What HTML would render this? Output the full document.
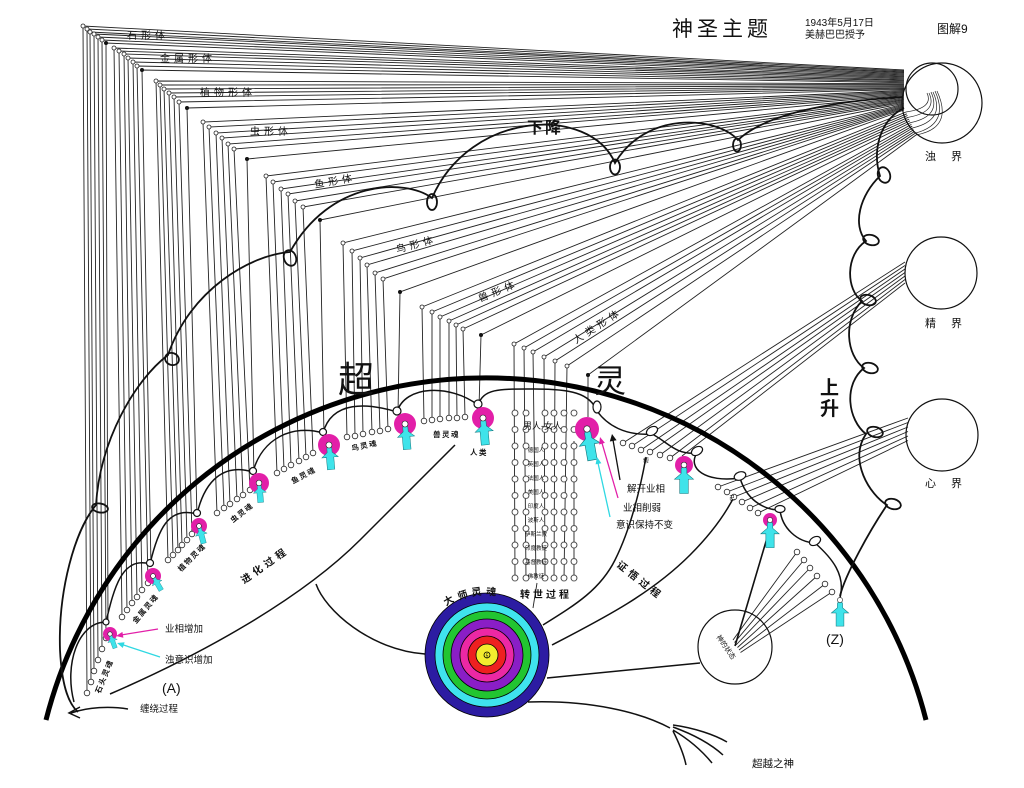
<!DOCTYPE html>
<html><head><meta charset="utf-8">
<style>
html,body{margin:0;padding:0;background:#fff;}
svg{display:block;}
text{font-family:"Liberation Sans","Noto Sans CJK SC",sans-serif;fill:#111;}
</style></head><body>
<svg width="1024" height="788" viewBox="0 0 1024 788" xmlns="http://www.w3.org/2000/svg" xmlns:xlink="http://www.w3.org/1999/xlink">
<defs>
<circle id="t" r="2.8" fill="#fff" stroke="#222" stroke-width="0.8"/>
<circle id="h" r="2" fill="#fff" stroke="#222" stroke-width="0.8"/>
<circle id="d" r="2" fill="#111"/>
<polygon id="fig" points="0,-1 3,4 3,9 10,15 4.5,15 4.5,30 -4.5,30 -4.5,15 -10,15 -3,9 -3,4" fill="#3fe3ea" stroke="#14777d" stroke-width="0.6"/>
<pattern id="col" patternUnits="userSpaceOnUse" x="508" y="404.75" width="70" height="16.5">
<g fill="#fff" stroke="#222" stroke-width="0.8">
<circle cx="7" cy="8.25" r="3"/><circle cx="18" cy="8.25" r="3"/><circle cx="37" cy="8.25" r="3"/><circle cx="46" cy="8.25" r="3"/><circle cx="56" cy="8.25" r="3"/><circle cx="66" cy="8.25" r="3"/>
</g>
</pattern>
</defs>
<rect width="1024" height="788" fill="#fff"/>

<g fill="none" stroke="#222" stroke-width="0.9">
<polyline points="904,70 83,26 87,693"/><polyline points="904,71 87,29 91,682"/><polyline points="904,72 90,32 94,671"/><polyline points="904,72.9 94,34 98,660"/><polyline points="904,73.9 98,37 102,649"/><polyline points="904,74.9 102,40 106,638"/><polyline points="904,75.9 106,43 108,625"/>
<polyline points="904,76.8 114,48 122,617"/><polyline points="904,77.8 119,51 127,610"/><polyline points="904,78.8 124,54 132,603"/><polyline points="904,79.8 128,58 137,597"/><polyline points="904,80.7 133,62 142,590"/><polyline points="904,81.7 137,66 148,583"/><polyline points="904,82.7 142,70 151,567"/>
<polyline points="904,83.7 156,81 168,560"/><polyline points="904,84.6 160,85 173,555"/><polyline points="904,85.6 164,89 178,550"/><polyline points="904,86.6 169,93 182,545"/><polyline points="904,87.6 174,97 187,540"/><polyline points="904,88.5 179,102 192,534"/><polyline points="904,89.5 187,108 197,517"/>
<polyline points="904,90.5 203,122 217,513"/><polyline points="904,91.5 209,127 224,508"/><polyline points="904,92.4 216,133 230,504"/><polyline points="904,93.4 222,138 237,499"/><polyline points="904,94.4 228,144 243,495"/><polyline points="904,95.4 234,149 250,490"/><polyline points="904,96.3 247,159 254,474"/>
<polyline points="904,97.3 266,176 277,473"/><polyline points="904,98.3 273,182 284,469"/><polyline points="904,99.3 281,189 291,465"/><polyline points="904,100.2 288,194 299,461"/><polyline points="904,101.2 295,201 306,457"/><polyline points="904,102.2 303,207 313,453"/><polyline points="904,103.2 320,220 324,435"/>
<polyline points="904,104.1 343,243 347,437"/><polyline points="904,105.1 352,251 355,436"/><polyline points="904,106.1 360,258 363,434"/><polyline points="904,107.1 367,265 372,432"/><polyline points="904,108 375,273 380,431"/><polyline points="904,109 383,279 388,429"/><polyline points="904,110 400,292 398,414"/>
<polyline points="906,112 422,307 424,421"/><polyline points="906.8,113.8 432,312 432,420"/><polyline points="907.5,115.5 440,317 440,419"/><polyline points="908.3,117.3 449,321 449,418"/><polyline points="909.1,119.1 456,325 457,418"/><polyline points="909.9,120.9 463,329 465,417"/><polyline points="910.6,122.6 481,335 479,408"/>
<polyline points="911.4,124.4 514,344 515,580"/><polyline points="912.2,126.2 524,348 526,580"/><polyline points="912.9,127.9 533,352 536,580"/><polyline points="913.7,129.7 544,357 545,580"/><polyline points="914.5,131.5 555,361 554,580"/><polyline points="915.2,133.2 567,366 564,580"/><polyline points="916,135 588,375 588,417"/>
<path d="M574,441V580M537,583L533,608"/>
<path d="M623,443L905,262M632,446L905,265.5M641,450L905,269M650,452L905,272.5M660,455L905,276M670,458L905,279.5M682,456L905,283"/>
<path d="M718,487L908,418M727,492L908,422.5M734,497L908,427M742,502L908,431.5M750,508L908,436M758,513L908,440.5"/>
<path d="M797,552L733,640M804,560L734.5,642.5M810,568L736,645M817,576L737.5,647.5M825,584L739,650M832,592L740.5,652.5"/>
</g>
<path d="M906,112Q934,108 927,93M908.3,117.3Q938,112 929,93M910.6,122.6Q942,116 931,92M912.9,127.9Q946,120 933,92M915.2,133.2Q950,124 935,91M916,135Q954,128 937,91" fill="none" stroke="#222" stroke-width="0.7"/>
<line x1="770" y1="528" x2="735" y2="646" stroke="#111" stroke-width="1.6"/>

<g>
<use href="#h" x="83" y="26"/><use href="#h" x="87" y="29"/><use href="#h" x="90" y="32"/><use href="#h" x="94" y="34"/><use href="#h" x="98" y="37"/><use href="#h" x="102" y="40"/>
<use href="#h" x="114" y="48"/><use href="#h" x="119" y="51"/><use href="#h" x="124" y="54"/><use href="#h" x="128" y="58"/><use href="#h" x="133" y="62"/><use href="#h" x="137" y="66"/>
<use href="#h" x="156" y="81"/><use href="#h" x="160" y="85"/><use href="#h" x="164" y="89"/><use href="#h" x="169" y="93"/><use href="#h" x="174" y="97"/><use href="#h" x="179" y="102"/>
<use href="#h" x="203" y="122"/><use href="#h" x="209" y="127"/><use href="#h" x="216" y="133"/><use href="#h" x="222" y="138"/><use href="#h" x="228" y="144"/><use href="#h" x="234" y="149"/>
<use href="#h" x="266" y="176"/><use href="#h" x="273" y="182"/><use href="#h" x="281" y="189"/><use href="#h" x="288" y="194"/><use href="#h" x="295" y="201"/><use href="#h" x="303" y="207"/>
<use href="#h" x="343" y="243"/><use href="#h" x="352" y="251"/><use href="#h" x="360" y="258"/><use href="#h" x="367" y="265"/><use href="#h" x="375" y="273"/><use href="#h" x="383" y="279"/>
<use href="#h" x="422" y="307"/><use href="#h" x="432" y="312"/><use href="#h" x="440" y="317"/><use href="#h" x="449" y="321"/><use href="#h" x="456" y="325"/><use href="#h" x="463" y="329"/>
<use href="#h" x="514" y="344"/><use href="#h" x="524" y="348"/><use href="#h" x="533" y="352"/><use href="#h" x="544" y="357"/><use href="#h" x="555" y="361"/><use href="#h" x="567" y="366"/>
<use href="#d" x="106" y="43"/><use href="#d" x="142" y="70"/><use href="#d" x="187" y="108"/><use href="#d" x="247" y="159"/><use href="#d" x="320" y="220"/><use href="#d" x="400" y="292"/><use href="#d" x="481" y="335"/><use href="#d" x="588" y="375"/>
</g>

<g fill="none" stroke="#111" stroke-width="1.2">
<circle cx="942" cy="103" r="40"/><circle cx="932" cy="89" r="26"/><circle cx="941" cy="273" r="36"/><circle cx="942" cy="435" r="36"/><circle cx="735" cy="647" r="37"/>
</g>

<path d="M46,720 A454,454 0 0 1 926,720" fill="none" stroke="#000" stroke-width="5"/>

<g fill="none" stroke="#111" stroke-width="1.8">
<path d="M903,97 C850,100 770,110 738,140 C715,115 645,112 615,163 C590,105 470,110 432,198 C405,178 330,180 290,252 C250,255 190,290 168,355 C135,380 100,440 96,505 C75,530 58,590 60,650 C62,690 70,705 78,712"/>
<ellipse cx="737" cy="145" rx="4" ry="6.5"/>
<ellipse cx="615" cy="167" rx="5" ry="7.5"/>
<ellipse cx="432" cy="202" rx="5" ry="8"/>
<ellipse cx="290" cy="258" rx="6" ry="8" transform="rotate(-20 290 258)"/>
<ellipse cx="172" cy="359" rx="7" ry="6" transform="rotate(20 172 359)"/>
<ellipse cx="100" cy="508" rx="8" ry="4.5" transform="rotate(10 100 508)"/>
<path d="M840,596 C845,575 870,530 887,505 C870,495 848,460 866,434 C848,420 843,385 864,368 C846,355 843,320 862,301 C846,290 845,255 866,241 C852,225 860,195 880,176 C872,150 880,120 904,108"/>
<ellipse cx="893" cy="504" rx="8" ry="5" transform="rotate(15 893 504)"/>
<ellipse cx="875" cy="432" rx="8" ry="5" transform="rotate(15 875 432)"/>
<ellipse cx="870" cy="368" rx="8" ry="5" transform="rotate(15 870 368)"/>
<ellipse cx="868" cy="300" rx="8" ry="5" transform="rotate(15 868 300)"/>
<ellipse cx="871" cy="240" rx="8" ry="5" transform="rotate(15 871 240)"/>
<ellipse cx="884" cy="175" rx="6" ry="8" transform="rotate(-20 884 175)"/>
</g>

<g fill="none" stroke="#111" stroke-width="1.5">
<path d="M74,702 C64,665 78,622 106,622 C114,588 122,556 150,564 C158,530 168,506 197,514 C205,480 224,463 253,472 C262,438 293,424 323,433 C332,400 368,403 397,412 C405,385 450,384 478,405 C484,388 500,389 535,389 C570,389 590,393 597,411 C607,425 625,436 652,434 C668,442 675,455 697,453 C687,468 705,483 740,478 C746,498 762,510 780,510 C782,528 797,542 815,543 C832,558 846,575 840,598"/>
<path d="M110,694 C200,655 300,600 360,540 C400,500 430,470 455,445"/>
<path d="M316,584 C325,610 370,650 425,654"/>
<path d="M543,625 C575,605 600,590 615,560 C630,530 640,490 646,457"/>
<path d="M552,645 C600,620 650,595 690,555 C710,535 725,515 735,495"/>
<path d="M547,678 L700,663"/>
<path d="M528,702 C590,700 640,712 670,728"/>
<path d="M673,725 C695,728 715,735 727,742 M673,727 C695,735 712,745 723,755 M673,730 C690,740 703,752 712,763 M673,731 C680,745 684,755 686,765"/>
<path d="M128,709 C110,706 88,707 71,713 M80,707 L69,713 L80,718"/>
</g>
<g fill="#fff" stroke="#111" stroke-width="1.2">
<circle cx="106" cy="622" r="3"/><circle cx="150" cy="563" r="3.5"/><circle cx="197" cy="513" r="3.5"/><circle cx="253" cy="471" r="3.5"/><circle cx="323" cy="432" r="3.5"/><circle cx="397" cy="411" r="4"/><circle cx="478" cy="404" r="4"/>
<ellipse cx="597" cy="407" rx="4" ry="6"/>
<ellipse cx="652" cy="431" rx="6" ry="4" transform="rotate(-30 652 431)"/>
<ellipse cx="697" cy="451" rx="6" ry="4" transform="rotate(-30 697 451)"/>
<ellipse cx="740" cy="476" rx="6" ry="4" transform="rotate(-20 740 476)"/>
<ellipse cx="780" cy="509" rx="5" ry="3.5"/>
<ellipse cx="815" cy="541" rx="6" ry="4" transform="rotate(-30 815 541)"/>
</g>

<g>
<use href="#t" x="87" y="693"/><use href="#t" x="91" y="682"/><use href="#t" x="94" y="671"/><use href="#t" x="98" y="660"/><use href="#t" x="102" y="649"/><use href="#t" x="106" y="638"/>
<use href="#t" x="122" y="617"/><use href="#t" x="127" y="610"/><use href="#t" x="132" y="603"/><use href="#t" x="137" y="597"/><use href="#t" x="142" y="590"/><use href="#t" x="148" y="583"/>
<use href="#t" x="168" y="560"/><use href="#t" x="173" y="555"/><use href="#t" x="178" y="550"/><use href="#t" x="182" y="545"/><use href="#t" x="187" y="540"/><use href="#t" x="192" y="534"/>
<use href="#t" x="217" y="513"/><use href="#t" x="224" y="508"/><use href="#t" x="230" y="504"/><use href="#t" x="237" y="499"/><use href="#t" x="243" y="495"/><use href="#t" x="250" y="490"/>
<use href="#t" x="277" y="473"/><use href="#t" x="284" y="469"/><use href="#t" x="291" y="465"/><use href="#t" x="299" y="461"/><use href="#t" x="306" y="457"/><use href="#t" x="313" y="453"/>
<use href="#t" x="347" y="437"/><use href="#t" x="355" y="436"/><use href="#t" x="363" y="434"/><use href="#t" x="372" y="432"/><use href="#t" x="380" y="431"/><use href="#t" x="388" y="429"/>
<use href="#t" x="424" y="421"/><use href="#t" x="432" y="420"/><use href="#t" x="440" y="419"/><use href="#t" x="449" y="418"/><use href="#t" x="457" y="418"/><use href="#t" x="465" y="417"/>
<use href="#t" x="623" y="443"/><use href="#t" x="632" y="446"/><use href="#t" x="641" y="450"/><use href="#t" x="650" y="452"/><use href="#t" x="660" y="455"/><use href="#t" x="670" y="458"/>
<use href="#t" x="718" y="487"/><use href="#t" x="727" y="492"/><use href="#t" x="734" y="497"/><use href="#t" x="742" y="502"/><use href="#t" x="750" y="508"/><use href="#t" x="758" y="513"/>
<use href="#t" x="797" y="552"/><use href="#t" x="804" y="560"/><use href="#t" x="810" y="568"/><use href="#t" x="817" y="576"/><use href="#t" x="825" y="584"/><use href="#t" x="832" y="592"/>
</g>
<rect x="508" y="409" width="70" height="173" fill="url(#col)"/>

<g fill="#e21fa8">
<circle cx="110" cy="634" r="7"/><circle cx="153" cy="576" r="8"/><circle cx="199" cy="526" r="8"/><circle cx="259" cy="483" r="10"/><circle cx="329" cy="445" r="11"/><circle cx="405" cy="424" r="11"/><circle cx="483" cy="418" r="11"/><circle cx="587" cy="429" r="12"/><circle cx="684" cy="465" r="9"/><circle cx="770" cy="520" r="7"/>
</g>
<use href="#fig" transform="translate(110,634) rotate(-20) scale(0.5)"/>
<use href="#fig" transform="translate(153,576) rotate(-30) scale(0.55)"/>
<use href="#fig" transform="translate(199,526) rotate(-15) scale(0.6)"/>
<use href="#fig" transform="translate(259,483) rotate(-5) scale(0.65)"/>
<use href="#fig" transform="translate(329,445) rotate(-5) scale(0.82)"/>
<use href="#fig" transform="translate(405,424) rotate(-5) scale(0.85)"/>
<use href="#fig" transform="translate(483,418) rotate(-5) scale(0.9)"/>
<use href="#fig" transform="translate(587,429) rotate(-10) scale(1.05)"/>
<use href="#fig" transform="translate(684,465) scale(0.95)"/>
<use href="#fig" transform="translate(770,520) scale(0.92)"/>
<use href="#fig" transform="translate(840,600) scale(0.87)"/>
<g fill="#fff" stroke="#222" stroke-width="0.6">
<circle cx="110" cy="634" r="2.2"/><circle cx="153" cy="576" r="2.4"/><circle cx="199" cy="526" r="2.4"/><circle cx="259" cy="483" r="2.8"/><circle cx="329" cy="445" r="3"/><circle cx="405" cy="424" r="3"/><circle cx="483" cy="418" r="3"/><circle cx="587" cy="429" r="3.2"/><circle cx="684" cy="465" r="2.8"/><circle cx="770" cy="520" r="2.6"/><circle cx="840" cy="600" r="2.6"/>
</g>

<g stroke="#000" stroke-width="0.8">
<circle cx="487" cy="655" r="62" fill="#2c1ca2"/>
<circle cx="487" cy="655" r="52" fill="#3fe3ee"/>
<circle cx="487" cy="655" r="44" fill="#22c531"/>
<circle cx="487" cy="655" r="36" fill="#8a1ec6"/>
<circle cx="487" cy="655" r="27" fill="#ec28a4"/>
<circle cx="487" cy="655" r="19" fill="#ee2020"/>
<circle cx="487" cy="655" r="11" fill="#f3ec2e"/>
<circle cx="487" cy="655" r="3" fill="#f3ec2e"/>
</g>
<text x="487" y="657.5" font-size="5" text-anchor="middle">5</text>

<g stroke-width="1.3">
<line x1="158" y1="629" x2="121" y2="635" stroke="#e21fa8"/>
<line x1="160" y1="657" x2="122" y2="644.5" stroke="#2fd8e2"/>
<line x1="620" y1="480" x2="613" y2="440" stroke="#111"/>
<line x1="618" y1="498" x2="602" y2="443" stroke="#e21fa8"/>
<line x1="610" y1="517" x2="598" y2="463" stroke="#2fd8e2"/>
</g>
<polygon points="116,636 123.4,637.8 122.4,631.9" fill="#e21fa8"/>
<polygon points="117,643 124.6,642.3 122.8,648" fill="#2fd8e2"/>
<polygon points="612,434 616.6,440.3 609.8,441.5" fill="#111"/>
<polygon points="600,437 604.9,442.9 599.1,444.5" fill="#e21fa8"/>
<polygon points="597,457 601.4,463.2 595.6,464.4" fill="#2fd8e2"/>

<text x="672" y="36" font-size="21" letter-spacing="4">神圣主题</text>
<text x="805" y="26" font-size="10">1943年5月17日</text>
<text x="805" y="38" font-size="10">美赫巴巴授予</text>
<text x="937" y="33" font-size="12">图解9</text>
<text x="925" y="160" font-size="11" letter-spacing="15">浊界</text>
<text x="925" y="327" font-size="11" letter-spacing="15">精界</text>
<text x="925" y="487" font-size="11" letter-spacing="15">心界</text>
<text x="527" y="133" font-size="16" font-weight="bold" letter-spacing="2">下降</text>
<text x="820" y="394" font-size="19" font-weight="bold">上</text>
<text x="820" y="415" font-size="19" font-weight="bold">升</text>
<text x="338" y="392" font-size="36">超</text>
<text x="594" y="392" font-size="32">灵</text>

<g font-size="10" fill="#222" letter-spacing="4">
<text x="127" y="39">石形体</text>
<text x="160" y="62">金属形体</text>
<text x="200" y="96">植物形体</text>
<text x="250" y="135">虫形体</text>
<text transform="translate(315,188) rotate(-10)">鱼形体</text>
<text transform="translate(397,253) rotate(-15)">鸟形体</text>
<text transform="translate(480,302) rotate(-22)">兽形体</text>
<text transform="translate(576,344) rotate(-33)">人类形体</text>
</g>

<g font-size="7.5" font-weight="bold" fill="#222" letter-spacing="1.5">
<text transform="translate(100,694) rotate(-68)">石头灵魂</text>
<text transform="translate(136,624) rotate(-50)">金属灵魂</text>
<text transform="translate(181,572) rotate(-45)">植物灵魂</text>
<text transform="translate(233,523) rotate(-38)">虫灵魂</text>
<text transform="translate(293,484) rotate(-28)">鱼灵魂</text>
<text transform="translate(352,451) rotate(-12)">鸟灵魂</text>
<text x="433" y="437">兽灵魂</text>
<text x="470" y="455">人类</text>
</g>
<text x="523" y="429" font-size="9" fill="#222">男人-女人</text>
<g font-size="5.5" text-anchor="middle" fill="#333">
<text x="536" y="452">德国人</text><text x="536" y="466">英国人</text><text x="536" y="480">法国人</text><text x="536" y="494">美国人</text><text x="536" y="508">印度人</text>
<text x="536" y="522">波斯人</text><text x="536" y="536">伊斯兰教</text><text x="536" y="550">印度教徒</text><text x="536" y="564">基督教徒</text><text x="536" y="578">佛教徒</text>
</g>

<g font-size="10" font-weight="bold" fill="#111">
<text transform="translate(244,584) rotate(-35)" letter-spacing="4">进化过程</text>
<text x="520" y="598" letter-spacing="3">转世过程</text>
<text transform="translate(616,566) rotate(38)" letter-spacing="4">证悟过程</text>
<text transform="translate(446,606) rotate(-30)">大</text>
<text transform="translate(459,600) rotate(-18)">师</text>
<text transform="translate(472,596) rotate(-8)">灵</text>
<text transform="translate(486,595) rotate(3)">魂</text>
</g>
<text x="140" y="712" font-size="9.5">缠绕过程</text>
<text x="162" y="693" font-size="14">(A)</text>
<text x="826" y="644" font-size="14">(Z)</text>
<text x="165" y="632" font-size="9.5" fill="#e21fa8">业相增加</text>
<text x="165" y="663" font-size="9.5" fill="#2fd8e2">浊意识增加</text>
<text x="627" y="492" font-size="9.5">解开业相</text>
<text x="623" y="511" font-size="9.5" fill="#e21fa8">业相削弱</text>
<text x="616" y="528" font-size="9.5" fill="#2fd8e2">意识保持不变</text>
<text x="752" y="767" font-size="10.5">超越之神</text>
<text transform="translate(716,637) rotate(55)" font-size="7">神的状态</text>
<text x="643" y="463" font-size="6">帮</text>
<text x="729" y="500" font-size="6">己</text>
</svg>
</body></html>
